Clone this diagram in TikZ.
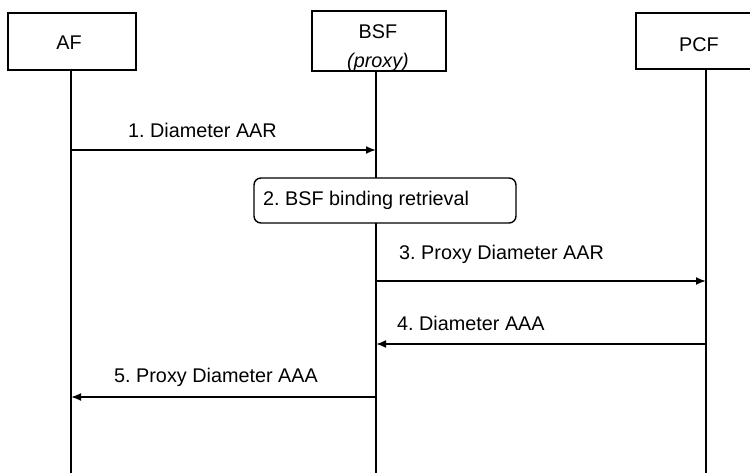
\documentclass[tikz,border=0pt]{standalone}
\usepackage{fontspec}
\setmainfont{Liberation Sans}
\usetikzlibrary{arrows.meta}
\begin{document}
\frenchspacing
\begin{tikzpicture}[x=1pt,y=-1pt,
  every node/.style={font=\fontsize{19.8}{23}\selectfont},
  entity/.style={draw, line width=1.4pt, fill=white, inner sep=0pt},
  lbl/.style={inner sep=0pt, anchor=west},
  life/.style={line width=1.4pt},
  msg/.style={line width=1.8pt, -{Latex[length=10pt,width=8pt]}},
  procbox/.style={draw, line width=1.4pt, fill=white, rounded corners=7pt, inner sep=0pt, minimum width=262pt, minimum height=45pt}
]
\useasboundingbox (0,0) rectangle (750,473);
% lifeline end coordinates
\coordinate (afend) at (71,473);
\coordinate (bsfend) at (376,473);
\coordinate (pcfend) at (706,473);
% entity boxes
\node[entity, minimum width=128pt, minimum height=57pt] (af) at (72,41.5) {};
\node[entity, minimum width=134pt, minimum height=60pt] (bsf) at (379,41) {};
\node[entity, minimum width=140pt, minimum height=56pt] (pcf) at (706,41) {};
\draw[life] (71,70) coordinate (aftop) -- (afend);
\draw[life] (376,71) coordinate (bsftop) -- (bsfend);
\draw[life] (706,69) coordinate (pcftop) -- (pcfend);
\node[inner sep=0pt] (aftext) at (69,43) {AF};
\node[inner sep=0pt, align=center] (bsftext) at (378,48) {BSF\\[6pt]\textit{(proxy)}};
\node[inner sep=0pt] (pcftext) at (699,45) {PCF};
% message coordinates
\coordinate (m1s) at (71,150);  \coordinate (m1e) at (376,150);
\coordinate (m3s) at (376,281); \coordinate (m3e) at (706,281);
\coordinate (m4s) at (706,344); \coordinate (m4e) at (376,344);
\coordinate (m5s) at (376,397); \coordinate (m5e) at (71,397);
\draw[msg] (m1s) -- (m1e);
\node[lbl] (l1) at (128,130) {1. Diameter AAR};
% step 2
\node[procbox] (p2) at (385,200.5) {};
\node[lbl] (l2) at (263,200) {2. BSF binding retrieval};
\draw[msg] (m3s) -- (m3e);
\node[lbl] (l3) at (399,254) {3. Proxy Diameter AAR};
\draw[msg] (m4s) -- (m4e);
\node[lbl] (l4) at (397,323) {4. Diameter AAA};
\draw[msg] (m5s) -- (m5e);
\node[lbl] (l5) at (114,377) {5. Proxy Diameter AAA};
\end{tikzpicture}
\end{document}
